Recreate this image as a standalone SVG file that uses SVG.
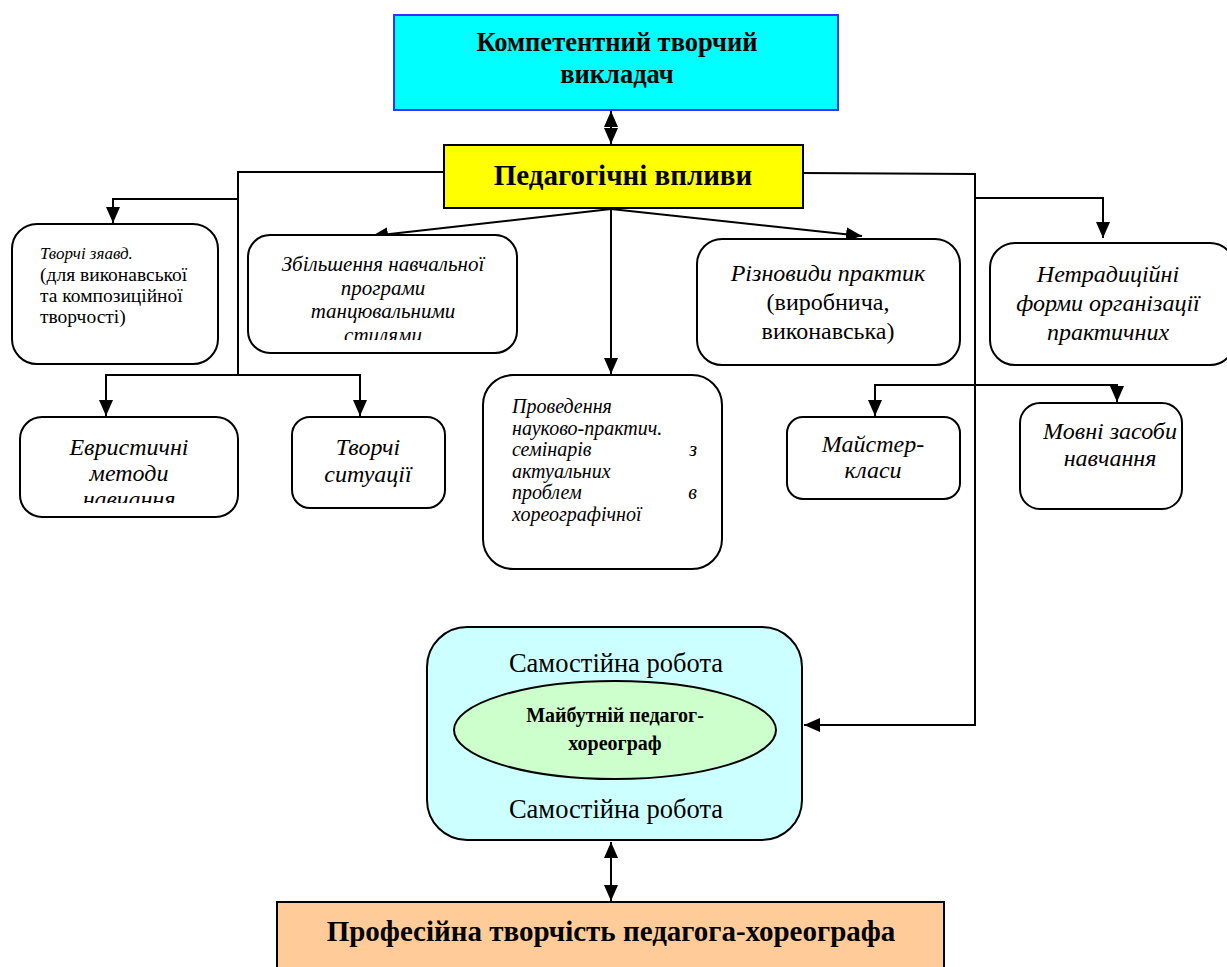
<svg xmlns="http://www.w3.org/2000/svg" width="1227" height="967" viewBox="0 0 1227 967">
<style>
  text { font-family: "Liberation Serif", "Times New Roman", serif; fill: #000; }
  .box { fill: #fff; stroke: #000; stroke-width: 2; }
  .ln { fill: none; stroke: #000; stroke-width: 2; }
  .it { font-style: italic; }
  .b { font-weight: bold; }
  .c { text-anchor: middle; }
</style>
<defs>
  <marker id="arr" viewBox="0 0 16 14" refX="16" refY="7" markerWidth="16" markerHeight="14" markerUnits="userSpaceOnUse" orient="auto">
    <path d="M0,0 L16,7 L0,14 z" fill="#000"/>
  </marker>
  <clipPath id="clipZb"><rect x="250" y="237" width="265" height="103"/></clipPath>
  <clipPath id="clipEv"><rect x="22" y="419" width="214" height="84"/></clipPath>
  <clipPath id="clipPr"><rect x="485" y="377" width="235" height="150"/></clipPath>
</defs>

<g id="connectors">
  <!-- top double arrow -->
  <line class="ln" x1="611" y1="128" x2="611" y2="111" marker-end="url(#arr)"/>
  <line class="ln" x1="611" y1="128" x2="611" y2="144" marker-end="url(#arr)"/>
  <!-- left branch -->
  <polyline class="ln" points="444,172 238,172 238,375"/>
  <polyline class="ln" points="238,199 113,199 113,223" marker-end="url(#arr)"/>
  <polyline class="ln" points="238,375 106,375 106,416" marker-end="url(#arr)"/>
  <polyline class="ln" points="238,375 360,375 360,416" marker-end="url(#arr)"/>
  <!-- center fan -->
  <line class="ln" x1="611" y1="209" x2="372" y2="236" marker-end="url(#arr)"/>
  <line class="ln" x1="611" y1="209" x2="611" y2="374" marker-end="url(#arr)"/>
  <line class="ln" x1="611" y1="209" x2="862" y2="236" marker-end="url(#arr)"/>
  <!-- right branch -->
  <polyline class="ln" points="803,173 975,174 975,725 804,725" marker-end="url(#arr)"/>
  <polyline class="ln" points="975,198 1103,198 1103,238" marker-end="url(#arr)"/>
  <polyline class="ln" points="875,384 875,416" marker-end="url(#arr)"/>
  <polyline class="ln" points="875,385 1117,385 1117,402" marker-end="url(#arr)"/>
  <!-- bottom double arrow -->
  <line class="ln" x1="611" y1="872" x2="611" y2="842" marker-end="url(#arr)"/>
  <line class="ln" x1="611" y1="872" x2="611" y2="901" marker-end="url(#arr)"/>
</g>

<g id="n-kompetentnyi">
  <rect x="394" y="15" width="444" height="95" fill="#00FFFF" stroke="#3333FF" stroke-width="2"/>
  <text class="b c" x="617" y="51" font-size="26.5">Компетентний творчий</text>
  <text class="b c" x="617" y="83" font-size="26.5">викладач</text>
</g>

<g id="n-vplyvy">
  <rect x="444" y="145" width="359" height="63" fill="#FFFF00" stroke="#000" stroke-width="2"/>
  <text class="b c" x="623" y="185" font-size="29">Педагогічні впливи</text>
</g>

<g id="n-tvorchi-zayavd">
  <rect class="box" x="12" y="224" width="206" height="140" rx="25"/>
  <text class="it" x="40" y="259" font-size="17">Творчі зяавд.</text>
  <text x="40" y="281" font-size="19.5">(для виконавської</text>
  <text x="40" y="302" font-size="19.5">та композиційної</text>
  <text x="40" y="323" font-size="19.5">творчості)</text>
</g>

<g id="n-zbilshennia">
  <rect class="box" x="248" y="235" width="269" height="118" rx="22"/>
  <g clip-path="url(#clipZb)">
    <text class="it c" x="383" y="271" font-size="21">Збільшення навчальної</text>
    <text class="it c" x="383" y="295" font-size="21">програми</text>
    <text class="it c" x="383" y="318" font-size="21">танцювальними</text>
    <text class="it c" x="383" y="342" font-size="21">стилями</text>
  </g>
</g>

<g id="n-riznovydy">
  <rect class="box" x="697" y="239" width="263" height="126" rx="25"/>
  <text class="it c" x="828" y="281" font-size="24">Різновиди практик</text>
  <text class="c" x="828" y="310" font-size="24">(виробнича,</text>
  <text class="c" x="828" y="339" font-size="24">виконавська)</text>
</g>

<g id="n-netradytsiini">
  <rect class="box" x="990" y="243" width="245" height="122" rx="25"/>
  <text class="it c" x="1108" y="282" font-size="24">Нетрадиційні</text>
  <text class="it c" x="1108" y="311" font-size="24">форми організації</text>
  <text class="it c" x="1108" y="340" font-size="24">практичних</text>
</g>

<g id="n-evrystychni">
  <rect class="box" x="20" y="417" width="218" height="100" rx="22"/>
  <g clip-path="url(#clipEv)">
    <text class="it c" x="129" y="455" font-size="24">Евристичні</text>
    <text class="it c" x="129" y="481" font-size="24">методи</text>
    <text class="it c" x="129" y="507" font-size="24">навчання</text>
  </g>
</g>

<g id="n-tvorchi-sytuatsii">
  <rect class="box" x="292" y="417" width="153" height="91" rx="18"/>
  <text class="it c" x="368" y="455" font-size="24">Творчі</text>
  <text class="it c" x="368" y="482" font-size="24">ситуації</text>
</g>

<g id="n-provedennia">
  <rect class="box" x="483" y="375" width="239" height="194" rx="30"/>
  <g clip-path="url(#clipPr)" font-size="20">
    <text class="it" x="512" y="413">Проведення</text>
    <text class="it" x="512" y="434.5">науково-практич.</text>
    <text class="it" x="512" y="456">семінарів</text>
    <text class="it" x="697" y="456" text-anchor="end">з</text>
    <text class="it" x="512" y="477.5">актуальних</text>
    <text class="it" x="512" y="499">проблем</text>
    <text class="it" x="697" y="499" text-anchor="end">в</text>
    <text class="it" x="512" y="520.5">хореографічної</text>
  </g>
</g>

<g id="n-maister">
  <rect class="box" x="787" y="417" width="173" height="82" rx="16"/>
  <text class="it c" x="873" y="452" font-size="24">Майстер-</text>
  <text class="it c" x="873" y="478" font-size="24">класи</text>
</g>

<g id="n-movni">
  <rect class="box" x="1020" y="403" width="162" height="106" rx="20"/>
  <text class="it c" x="1110" y="439" font-size="24">Мовні засоби</text>
  <text class="it c" x="1110" y="466" font-size="24">навчання</text>
</g>

<g id="n-samostiina">
  <rect x="427" y="627" width="375" height="213" rx="40" fill="#CCFFFF" stroke="#000" stroke-width="2"/>
  <text class="c" x="616" y="672" font-size="26.5">Самостійна робота</text>
  <text class="c" x="616" y="818" font-size="26.5">Самостійна робота</text>
</g>

<g id="n-maibutnii">
  <ellipse cx="615" cy="730" rx="161" ry="49" fill="#CCFFCC" stroke="#000" stroke-width="2"/>
  <text class="b c" x="615" y="722" font-size="20">Майбутній педагог-</text>
  <text class="b c" x="615" y="750" font-size="20">хореограф</text>
</g>

<g id="n-profesiina">
  <rect x="277" y="902" width="667" height="75" fill="#FFCC99" stroke="#000" stroke-width="2"/>
  <text class="b c" x="611" y="941" font-size="29">Професійна творчість педагога-хореографа</text>
</g>
</svg>
